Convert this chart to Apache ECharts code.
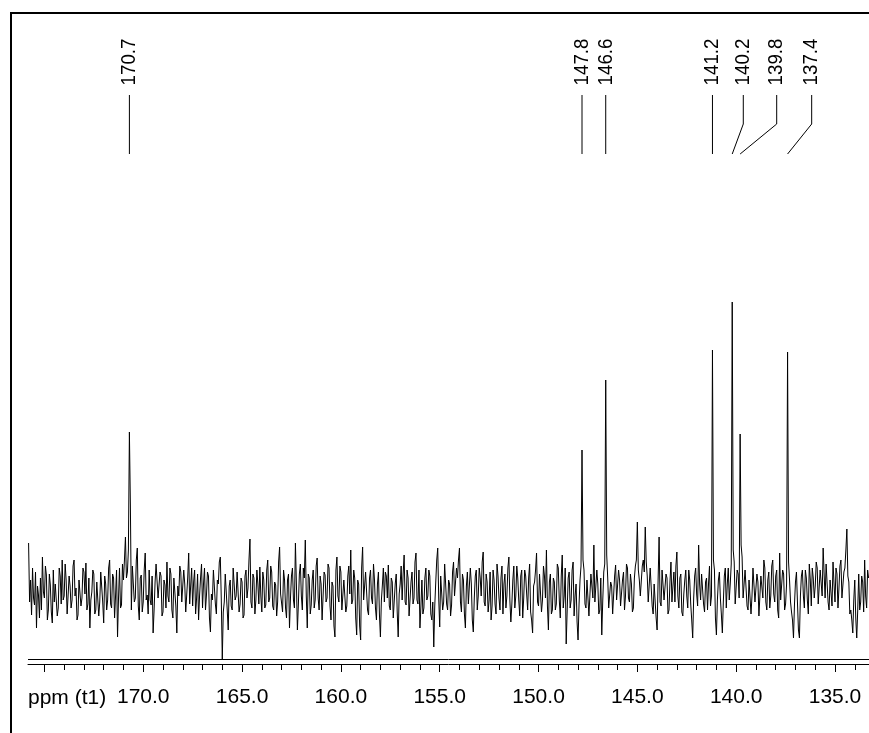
<!DOCTYPE html>
<html>
<head>
<meta charset="utf-8">
<script src="https://cdn.jsdelivr.net/npm/echarts@6/dist/echarts.min.js"></script>
<style>
  html, body { margin: 0; padding: 0; background: #fff; }
  #chart { width: 869px; height: 733px; }
</style>
</head>
<body>
<div id="chart"></div>
<script>
// spectrum window (ppm), noise grid starts at noiseStart and steps down by noiseStep
const ppmMin = 133.28;
const ppmMax = 175.83;
const noiseStart = 175.8;
const noiseStep = 0.05;

// baseline noise (units: px above baseline)
const noise = [
  47,-12, 10,-25, 22,-8, -15,18, -38,4, -5,-28, 12,-20, 33,-2, -8,24, 15,-30, -20,16, 5,-22, -33,20, -12,6, 8,-26, -18,22, 14,-14, 30,-10, -6,26, 10,-24,
  -22,14, 4,-18, -10,24, 30,-6, 2,-30, -25,10, 12,-16, -8,22, 18,-4, 27,-20, -14,12, -38,-10, -2,20, 16,-24, -20,8, 8,-26, -12,18, 20,-12, -33,14, 6,-20,
  -10,22, 30,-14, -18,16, 12,-28, -6,20, -47,-8, 22,-18, -15,26, 10,30, 53,12, 18,40, 35,85, -20,24, 25,-12, -8,30, 42,-16, -30,12, 15,-22, -12,20, 37,-10,
  -5,-24, 20,-10, -15,14, -43,-20, 8,26, 28,-8, -10,18, 14,-26, -22,10, 5,-18, 28,-6, -12,22, 16,-20, -28,12, 10,-16, -43,4, -6,24, 18,-12, -14,20, 6,-22,
  -20,12, 37,-14, 4,22, -16,8, 20,-24, -8,16, -30,-6, 12,26, -18,6, 22,-20, -5,18, 14,-28, -42,-4, -10,20, 18,-14, -24,10, 6,28, 33,-10, 0,-22, -12,16,
  15,-20, -40,4, 10,-16, -20,22, 24,-10, -6,18, 16,-22, -14,12, 8,-28, -25,14, 20,-8, 2,30, 51,-12, -18,16, 12,-24, -10,20, 6,-14, 23,-6, -22,18, 10,-18,
  -15,20, 30,-12, -8,24, 18,-16, -20,8, 5,-26, -12,28, 43,-4, -5,-22, 20,10, -18,-28, 10,16, -38,-8, 14,22, -10,-18, 47,6, -40,-14, 16,26, -6,-20, 22,12,
  50,-6, -38,16, 12,-24, -15,10, 20,-18, -10,24, 32,-8, -20,14, 6,-30, -28,18, 15,-12, -8,26, 22,-16, -30,8, 4,-36, -47,20, 33,-6, -12,24, 18,-20, -22,10,
  8,-22, -16,14, 24,-4, 40,-14, -10,20, 12,-28, -45,10, 6,-36, -50,22, 43,-10, -8,18, 16,-20, -25,12, 20,-8, -14,26, 10,-18, -30,6, 18,-24, -47,-10, 5,22,
  -12,18, 14,-8, 25,-16, -20,12, 8,-28, -26,6, 16,-22, -47,-4, 6,24, -10,16, 35,-12, -15,20, 12,-26, -24,8, 18,-14, -8,28, 37,-10, -14,20, -38,-16, 10,-24,
  -18,12, 22,-10, -6,20, 14,-24, -30,-12, -57,-16, 8,30, 42,-8, -37,14, 16,-20, -12,26, 24,-14, -20,10, 6,-26, -15,18, 28,-6, -8,22, 12,30, 42,-12, -22,16,
  10,-24, -38,4, 18,-14, -12,22, 6,-30, -42,-8, 14,20, -20,-6, 22,12, -6,28, 38,-12, -16,16, 8,-22, -10,18, -30,-16, 20,10, -14,-24, 26,14, -8,-20, 12,24,
  -24,6, 16,-18, -6,22, 33,-10, -32,-14, 10,24, -18,-6, 24,12, -10,-26, 14,20, -28,-8, 20,14, -4,-20, 12,26, -22,-30, -43,4, 8,20, 37,-12, -16,16, 18,-22,
  -10,24, 14,-8, 40,-16, -40,8, 16,-24, -20,12, 8,-20, -14,26, 22,-10, -28,14, 35,-18, -6,22, -54,-20, 12,18, -18,-10, 20,28, -26,-6, 6,-32, -50,-14, 10,24,
  0,30, 20,-14, -18,10, 8,-26, -24,16, 14,-8, 45,-12, -10,20, 6,-24, -20,12, -45,-10, 18,26, 0,35, 12,-18, -16,8, 4,-24, -22,14, 25,-10, -8,20, 10,-16,
  -14,10, 18,-20, -6,26, 22,-8, -12,16, 6,-22, -18,12, 24,30, 68,20, 10,-6, -8,24, 30,18, 63,28, 14,-12, -10,22, 20,-16, -24,6, 8,-28, -40,10, 53,-12,
  -16,20, 22,-10, -8,16, 12,-24, -20,8, 28,-12, 4,18, -12,24, 38,-6, -18,12, 16,-22, -26,-4, 10,20, -6,-18, 20,10, -14,-30, -48,-8, 14,22, -4,-16, 45,6,
  -10,16, 18,-14, -22,8, 12,-20, 6,24, -16,-6, 0,30, 20,-28, -45,-10, 10,18, -8,-24, -43,-12, 14,22, -18,6, 22,-10, 6,26, 0,40, 28,-14, -12,20, 16,-8,
  0,45, 33,-8, -10,20, 18,-16, -20,10, 12,-24, -6,22, 22,-12, -14,16, 8,-26, -24,14, 16,-8, 30,22, -12,-20, 10,18, -18,-6, 24,30, -4,-12, 14,20, -20,-28,
  37,-10, -8,20, 16,-20, -14,6, 0,28, 10,-12, -22,-30, -48,-14, 8,18, -12,-40, -48,-6, 14,20, -6,-18, 20,12, -10,-24, 26,10, -16,22, 12,-8, 4,28, 22,-14,
  -14,20, 18,-6, 42,16, -8,26, 24,-12, -20,10, 10,-16, 28,6, -12,22, 16,-18, 2,24, 30,-8, -10,18, 22,40, 61,14, 8,-24, -20,-30, -43,-10, 10,-28, -48,-20,
  16,-20, -12,14, 8,-22, 30,-6, -18,20, 12
];

// resolved lines (ppm, height above baseline)
const peakPpm = [170.7, 166.0, 147.8, 146.6, 141.2, 140.2, 139.8, 137.4];
const peakHeight = [158, -69, 140, 210, 240, 288, 156, 238];

// picked peaks: text and where the label sits (ppm)
const labelPpm = [170.7, 147.8, 146.6, 141.2, 140.2, 139.8, 137.4];
const labelText = ['170.7', '147.8', '146.6', '141.2', '140.2', '139.8', '137.4'];
const labelAt = [170.7, 147.8, 146.6, 141.2, 139.64, 137.95, 136.18];

const majorTicks = [135, 140, 145, 150, 155, 160, 165, 170, 175];
const tickLabels = [135, 140, 145, 150, 155, 160, 165, 170];
const minorTicks = [];
for (let v = 134; v <= 175; v++) if (v % 5 !== 0) minorTicks.push(v);

const FONT = 'Liberation Sans, Arial, sans-serif';

const values = noise.slice();
peakPpm.forEach((p, k) => {
  values[Math.round((noiseStart - p) / noiseStep)] = peakHeight[k];
});
const spectrum = values.map((v, i) => [+(noiseStart - i * noiseStep).toFixed(2), v]);

const chart = echarts.init(document.getElementById('chart'));
chart.setOption({
  animation: false,
  backgroundColor: '#fff',
  grid: { left: 28, right: 0, top: 12, bottom: 69 },
  xAxis: [
    {
      type: 'value',
      inverse: true,
      min: ppmMin,
      max: ppmMax,
      axisLine: { show: true, onZero: false, lineStyle: { color: '#000', width: 1 } },
      axisTick: { show: true, length: 8, customValues: majorTicks, lineStyle: { color: '#000' } },
      axisLabel: {
        customValues: tickLabels,
        margin: 23,
        fontSize: 21,
        fontFamily: FONT,
        color: '#000',
        formatter: v => v.toFixed(1)
      },
      splitLine: { show: false }
    },
    {
      type: 'value',
      inverse: true,
      min: ppmMin,
      max: ppmMax,
      position: 'bottom',
      axisLine: { show: false, onZero: false },
      axisTick: { show: true, length: 6, customValues: minorTicks, lineStyle: { color: '#000' } },
      axisLabel: { show: false },
      splitLine: { show: false }
    }
  ],
  yAxis: { type: 'value', min: -74, max: 578, show: false },
  series: [
    {
      type: 'line',
      data: spectrum,
      showSymbol: false,
      symbol: 'none',
      lineStyle: { color: '#000', width: 1 },
      markLine: {
        silent: true,
        symbol: 'none',
        label: { show: false },
        lineStyle: { color: '#000', width: 1, type: 'solid' },
        data: [{ yAxis: -69 }]
      }
    }
  ]
});

// frame, unit caption, peak labels with their leader lines
const els = [
  { type: 'line', shape: { x1: 11, y1: 12, x2: 11, y2: 733 }, style: { stroke: '#000', lineWidth: 2 } },
  { type: 'line', shape: { x1: 10, y1: 13, x2: 869, y2: 13 }, style: { stroke: '#000', lineWidth: 2 } },
  {
    type: 'text', x: 28, y: 698,
    style: { text: 'ppm (t1)', fontSize: 21, fontFamily: FONT, fill: '#000', verticalAlign: 'middle' }
  }
];
labelPpm.forEach((p, k) => {
  const px = chart.convertToPixel({ xAxisIndex: 0 }, p);
  const lx = chart.convertToPixel({ xAxisIndex: 0 }, labelAt[k]);
  els.push({
    type: 'text', x: lx, y: 62, rotation: Math.PI / 2, scaleX: 0.89,
    style: { text: labelText[k], fontSize: 21, fontFamily: FONT, fill: '#000', align: 'center', verticalAlign: 'middle' }
  });
  els.push({
    type: 'polyline',
    shape: { points: [[lx, 95], [lx, 124], [px, 154]] },
    style: { stroke: '#000', lineWidth: 1, fill: null }
  });
});
chart.setOption({ graphic: { elements: els } });
</script>
</body>
</html>
